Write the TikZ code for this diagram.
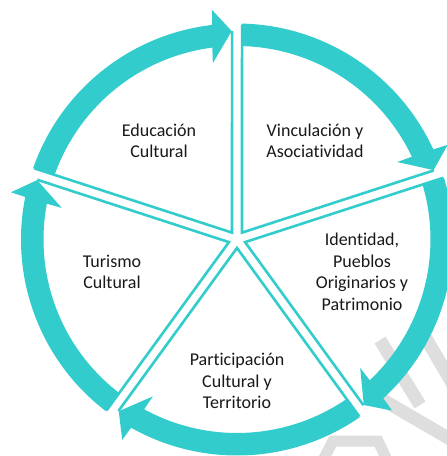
\documentclass[tikz,border=0pt]{standalone}
\usepackage{fontspec}
\setmainfont{Carlito}[Ligatures=NoCommon]
\usetikzlibrary{arrows.meta}
\definecolor{cycleteal}{RGB}{51,204,204}
\definecolor{markgray}{RGB}{222,222,222}

\begin{document}
\begin{tikzpicture}[x=1pt,y=1pt,>=Stealth,
    sector/.style={draw=cycleteal, line width=2.6pt, line join=miter},
    sectortext/.style={align=center, inner sep=0pt, text=black!90,
      font=\fontsize{18}{21.5}\selectfont}]
    % frame
    \useasboundingbox (-237,-216.5) rectangle (210,239.5);
    \clip (-237,-216.5) rectangle (210,239.5);
    \fill[white] (-237,-216.5) rectangle (210,239.5);

    % watermark pieces (pixel coordinates)
    \begin{scope}[shift={(-237,239.5)}, yscale=-1, draw=markgray, line width=13pt]
      \draw (417,323) -- (462,400);
      \draw (380,340) -- (420,405);
      \draw (383,400) -- (462,446);
      \draw[line width=11pt] (322,462) -- (333,441) -- (378,441) -- (388,462);
    \end{scope}

    % sectors and arrows
    \foreach \a in {162,90,18,-54,-126} {
      \pgfmathsetmacro\b{\a-72}
      \draw[sector] ({\a-1.35}:215) -- ({\a-36}:8.5) -- ({\b+1.35}:208.5);
      \fill[cycleteal] ({\a-1.35}:216)
        arc[start angle=\a-1.35, end angle=\b+6.65, radius=216]
        -- ({\b+6.2}:231) -- ({\b+1.45}:208.5) -- ({\b+7.8}:178)
        -- ({\b+7.33}:193.5)
        arc[start angle=\b+7.33, end angle=\a-1.35, radius=193.5] -- cycle;
    }

    % labels
    \node[sectortext] (educ) at (-78,98.5) {Educación\\Cultural};
    \node[sectortext] (vinc) at (78,98.5) {Vinculación y\\Asociatividad};
    \node[sectortext] (iden) at (125,-32.5) {Identidad,\\Pueblos\\Originarios y\\Patrimonio};
    \node[sectortext] (turi) at (-125,-32.5) {Turismo\\Cultural};
    \node[sectortext] (part) at (0,-141.5) {Participación\\Cultural y\\Territorio};
\end{tikzpicture}
\end{document}
